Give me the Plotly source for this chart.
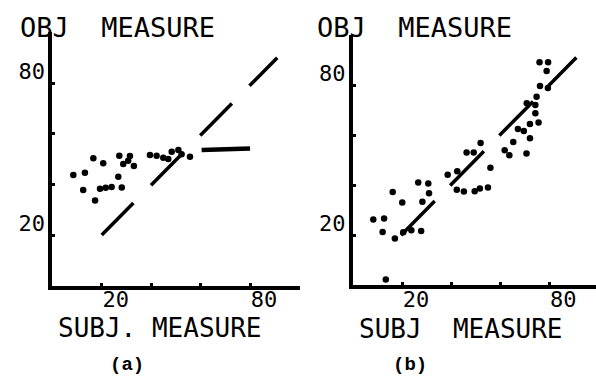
import plotly.graph_objects as go

W, H = 596, 377

# ---- panel (a): objective vs subjective measure ----
a_x = [16.6, 20.6, 27.1, 31.4, 28.7, 30.7, 33.0, 8.5, 13.2, 26.7, 12.5,
       19.3, 21.6, 24.0, 28.1, 17.3,
       39.5, 42.2, 44.9, 46.9, 48.3, 51.0, 52.3, 55.7]
a_y = [50.3, 48.3, 51.3, 51.2, 48.0, 49.3, 47.3, 43.7, 44.6, 43.0, 37.8,
       38.3, 38.7, 39.0, 38.8, 33.6,
       51.6, 51.3, 50.5, 50.0, 52.9, 53.6, 51.9, 50.9]
# flat run of responses in the upper range
a_flat_x = [60.4, 80.0]
a_flat_y = [53.6, 54.2]

# ---- panel (b) ----
b_x = [16.2, 20.1, 26.6, 30.7, 31.0, 28.3, 8.3, 12.7, 12.1, 17.1, 20.5, 23.8, 27.8,
       13.4,
       38.6, 42.5, 46.3, 49.2, 52.0, 56.0, 42.3, 45.2, 49.6, 51.7, 55.0,
       61.8, 63.7, 65.3, 70.7, 72.1, 67.2, 69.6, 72.1, 75.6, 74.3, 70.8, 74.3,
       74.8, 76.2, 79.4, 78.9, 76.0, 79.5]
b_y = [37.3, 33.1, 41.1, 40.7, 36.8, 33.4, 26.3, 26.7, 21.3, 18.7, 21.2, 22.0, 21.7,
       2.3,
       44.2, 45.6, 53.1, 53.1, 56.9, 47.0, 38.2, 37.5, 37.6, 38.7, 39.1,
       54.0, 52.0, 57.3, 52.7, 58.7, 62.4, 61.6, 64.4, 65.0, 68.7, 72.7, 72.0,
       75.3, 79.6, 78.8, 85.6, 89.1, 89.1]

# identity reference line
diag_a_x = [20, 91]
diag_a_y = [20, 90]
diag_b_x = [19.6, 91]
diag_b_y = [20, 91]

tick_vals = [20, 40, 60, 80]
tick_text = ["20", "", "", "80"]

MONO = "DejaVu Sans Mono"
INK = "#000000"


def px_x(p):
    return p / W


def px_y(p):
    return 1 - p / H


fig = go.Figure()

marker = dict(color=INK, size=6.5, symbol="circle", line=dict(width=0))

fig.add_trace(go.Scatter(x=a_x, y=a_y, mode="markers", marker=marker,
                         xaxis="x", yaxis="y", hoverinfo="skip"))
fig.add_trace(go.Scatter(x=a_flat_x, y=a_flat_y, mode="lines",
                         line=dict(color=INK, width=4.5),
                         xaxis="x", yaxis="y", hoverinfo="skip"))
fig.add_trace(go.Scatter(x=diag_a_x, y=diag_a_y, mode="lines",
                         line=dict(color=INK, width=3.5, dash="45px,25px"),
                         xaxis="x", yaxis="y", hoverinfo="skip"))

fig.add_trace(go.Scatter(x=b_x, y=b_y, mode="markers", marker=marker,
                         xaxis="x2", yaxis="y2", hoverinfo="skip"))
fig.add_trace(go.Scatter(x=diag_b_x, y=diag_b_y, mode="lines",
                         line=dict(color=INK, width=3.5, dash="48px,22px"),
                         xaxis="x2", yaxis="y2", hoverinfo="skip"))

axis_common = dict(
    showline=True, linewidth=4, linecolor=INK,
    ticks="inside", ticklen=3, tickwidth=3, tickcolor=INK,
    tickvals=tick_vals, ticktext=tick_text,
    tickfont=dict(family=MONO, size=22, color=INK),
    showgrid=False, zeroline=False, fixedrange=True,
)

xaxis_extra = dict(ticklabelshift=14, ticklabelstandoff=-9)
yaxis_extra = dict(ticklabelshift=-12, ticklabelstandoff=-1)

fig.update_layout(
    width=W, height=H,
    margin=dict(l=0, r=0, t=0, b=0),
    paper_bgcolor="white", plot_bgcolor="white",
    showlegend=False,
    xaxis=dict(domain=[px_x(52.3), px_x(299.5)], range=[0, 100], anchor="y",
               **xaxis_extra, **axis_common),
    yaxis=dict(domain=[px_y(285.7), px_y(32.4)], range=[0, 100], anchor="x",
               **yaxis_extra, **axis_common),
    xaxis2=dict(domain=[px_x(352.9), 1.0], range=[0, 99], anchor="y2",
                **xaxis_extra, **axis_common),
    yaxis2=dict(domain=[px_y(285.3), px_y(35)], range=[0, 100], anchor="x2",
                **yaxis_extra, **axis_common),
)

labels = [
    ("OBJ\u00a0\u00a0MEASURE", 117.5, 27.5, MONO, 27, False),
    ("OBJ\u00a0\u00a0MEASURE", 414, 27.5, MONO, 27, False),
    ("SUBJ.\u00a0MEASURE", 159.5, 327.5, MONO, 26, False),
    ("SUBJ\u00a0\u00a0MEASURE", 461, 328.5, MONO, 26, False),
    ("(a)", 126.7, 364.5, "Liberation Mono", 19, True),
    ("(b)", 410, 364.5, "Liberation Mono", 19, True),
]
for text, cx, cy, fam, size, bold in labels:
    fig.add_annotation(
        text=f"<b>{text}</b>" if bold else text,
        x=px_x(cx), y=px_y(cy), xref="paper", yref="paper",
        xanchor="center", yanchor="middle", showarrow=False,
        borderpad=0,
        font=dict(family=fam, size=size, color=INK),
    )

fig.write_html("out.html")
